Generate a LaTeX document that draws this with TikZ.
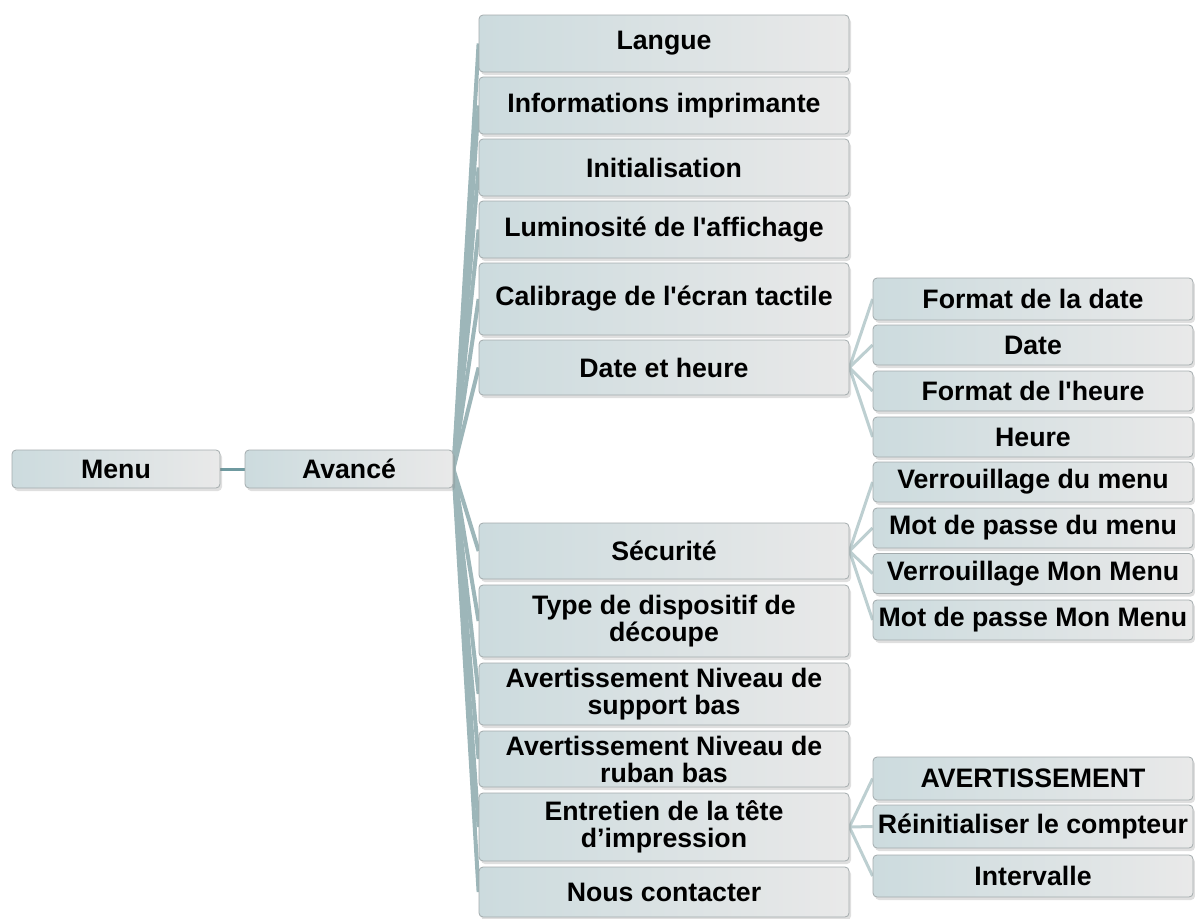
\documentclass[tikz,border=0pt]{standalone}
\usepackage{fontspec}
\setmainfont{Liberation Sans}[Ligatures=TeXOff]
\usepackage{tikz}
\usetikzlibrary{shadows, backgrounds}

\definecolor{boxleft}{HTML}{CCDBDE}
\definecolor{boxright}{HTML}{E9E9E9}
\definecolor{boxedge}{HTML}{A3ABAD}
\definecolor{linkmain}{HTML}{6F9AA0}
\definecolor{linkfan}{HTML}{9DB6B9}
\definecolor{linksub}{HTML}{BDCFD1}

\tikzset{
    item/.style={draw=boxedge, line width=0.8pt, rounded corners=4pt,
        left color=boxleft, right color=boxright,
        drop shadow={shadow xshift=2pt, shadow yshift=-3pt, opacity=0.25},
        align=center, inner sep=1pt,
        font=\bfseries\fontsize{26.7}{27}\selectfont},
    root/.style={item, minimum width=208pt, minimum height=38pt},
    level/.style={item, minimum width=370pt},
    leaf/.style={item, minimum width=320pt},
    fan/.style={linkfan, line width=4pt},
    subfan/.style={linksub, line width=3pt}
}

\begin{document}
\begin{tikzpicture}[x=1pt, y=-1pt]
    \useasboundingbox (0,0) rectangle (1195,919);

    % Root
    \node[root] (menu) at (116, 469) {Menu};
    \node[root] (avance) at (349, 469) {Avancé};

    % Avance entries
    \node[level, minimum height=57pt] (langue) at (664, 43.5) {Langue};
    \node[level, minimum height=57pt] (info) at (664, 105.5) {Informations imprimante};
    \node[level, minimum height=57pt] (init) at (664, 167.5) {Initialisation};
    \node[level, minimum height=57pt] (lum) at (664, 229.5) {Luminosité de l'affichage};
    \node[level, minimum height=72pt] (calib) at (664, 299) {Calibrage de l'écran tactile};
    \node[level, minimum height=55pt] (dateh) at (664, 367.5) {Date et heure};
    \node[level, minimum height=56pt] (secu) at (664, 551) {Sécurité};
    \node[level, minimum height=72pt] (type) at (664, 621) {Type de dispositif de\\découpe};
    \node[level, minimum height=62pt] (supp) at (664, 694) {Avertissement Niveau de\\support bas};
    \node[level, minimum height=56pt] (ruban) at (664, 759) {Avertissement Niveau de\\ruban bas};
    \node[level, minimum height=68pt] (tete) at (664, 827) {Entretien de la tête\\d’impression};
    \node[level, minimum height=50pt] (contact) at (664, 892) {Nous contacter};

    % Date et heure entries
    \node[leaf, minimum height=42pt] (fdate) at (1033, 299) {Format de la date};
    \node[leaf, minimum height=40pt] (date) at (1033, 345) {Date};
    \node[leaf, minimum height=40pt] (fheure) at (1033, 391) {Format de l'heure};
    \node[leaf, minimum height=40pt] (heure) at (1033, 437) {Heure};

    % Securite entries
    \node[leaf, minimum height=40pt] (vmenu) at (1033, 482) {Verrouillage du menu};
    \node[leaf, minimum height=40pt] (mpmenu) at (1033, 528) {Mot de passe du menu};
    \node[leaf, minimum height=40pt] (vmon) at (1033, 573.5) {Verrouillage Mon Menu};
    \node[leaf, minimum height=40pt] (mpmon) at (1033, 620) {Mot de passe Mon Menu};

    % Tete entries
    \node[leaf, minimum height=43pt] (avert) at (1033, 778.5) {AVERTISSEMENT};
    \node[leaf, minimum height=43pt] (reinit) at (1033, 826.5) {Réinitialiser le compteur};
    \node[leaf, minimum height=42pt] (interv) at (1033, 876) {Intervalle};

    % Links
    \begin{scope}[on background layer]
        \draw[linkmain, line width=3pt] (menu.east) -- (avance.east -| avance.west);
        \draw[fan] (avance.east) -- (langue.west);
        \draw[fan] (avance.east) -- (info.west);
        \draw[fan] (avance.east) -- (init.west);
        \draw[fan] (avance.east) -- (lum.west);
        \draw[fan] (avance.east) -- (calib.west);
        \draw[fan] (avance.east) -- (dateh.west);
        \draw[fan] (avance.east) -- (secu.west);
        \draw[fan] (avance.east) -- (type.west);
        \draw[fan] (avance.east) -- (supp.west);
        \draw[fan] (avance.east) -- (ruban.west);
        \draw[fan] (avance.east) -- (tete.west);
        \draw[fan] (avance.east) -- (contact.west);

        \draw[subfan] (dateh.east) -- (fdate.west);
        \draw[subfan] (dateh.east) -- (date.west);
        \draw[subfan] (dateh.east) -- (fheure.west);
        \draw[subfan] (dateh.east) -- (heure.west);

        \draw[subfan] (secu.east) -- (vmenu.west);
        \draw[subfan] (secu.east) -- (mpmenu.west);
        \draw[subfan] (secu.east) -- (vmon.west);
        \draw[subfan] (secu.east) -- (mpmon.west);

        \draw[subfan] (tete.east) -- (avert.west);
        \draw[subfan] (tete.east) -- (reinit.west);
        \draw[subfan] (tete.east) -- (interv.west);
    \end{scope}

\end{tikzpicture}
\end{document}
